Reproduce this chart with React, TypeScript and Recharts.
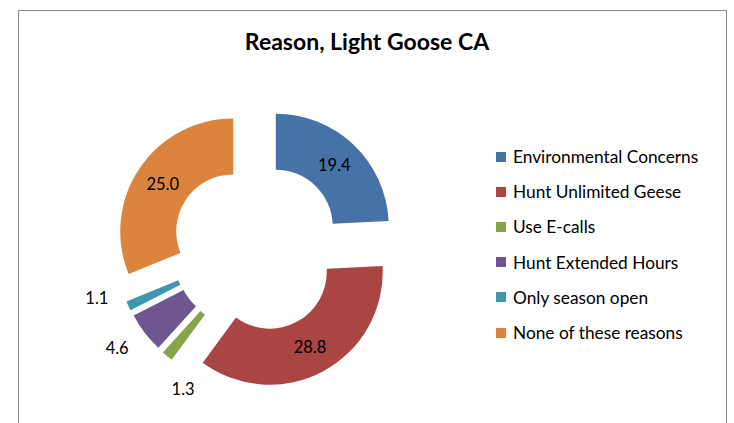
import { PieChart, Pie, Cell, Sector, Legend } from "recharts";

const categories = [
  "Environmental Concerns",
  "Hunt Unlimited Geese",
  "Use E-calls",
  "Hunt Extended Hours",
  "Only season open",
  "None of these reasons",
];
const values = [19.4, 28.8, 1.3, 4.6, 1.1, 25.0];
const colors = ["#4672A7", "#A94543", "#87A44B", "#6F568E", "#3F97AE", "#DB843D"];

const data = categories.map((name, i) => ({ name, value: values[i] }));

const RADIAN = Math.PI / 180;
const EXPLODE = 28;
const FONT = "Lato, 'Open Sans', sans-serif";

// nudges for the labels Excel pushed outside the small slices
const outsideNudge: Record<number, [number, number]> = {
  2: [33, 12],
  3: [-6, -1],
  4: [-7, -19],
};

// eslint-disable-next-line @typescript-eslint/no-explicit-any
const ExplodedSector = (props: any) => {
  const { cx, cy, midAngle, innerRadius, outerRadius, startAngle, endAngle, fill } = props;
  const dx = EXPLODE * Math.cos(-midAngle * RADIAN);
  const dy = EXPLODE * Math.sin(-midAngle * RADIAN);
  return (
    <Sector
      cx={cx + dx}
      cy={cy + dy}
      innerRadius={innerRadius}
      outerRadius={outerRadius}
      startAngle={startAngle}
      endAngle={endAngle}
      fill={fill}
      stroke="none"
    />
  );
};

// eslint-disable-next-line @typescript-eslint/no-explicit-any
const renderLabel = (props: any) => {
  const { cx, cy, midAngle, innerRadius, outerRadius, value, index } = props;
  const small = value < 5;
  const r = small ? 168 : (innerRadius + outerRadius) / 2 + EXPLODE;
  const [nx, ny] = small ? outsideNudge[index] ?? [0, 0] : [0, 0];
  const x = cx + r * Math.cos(-midAngle * RADIAN) + nx;
  const y = cy + r * Math.sin(-midAngle * RADIAN) + ny;
  return (
    <text
      x={x}
      y={y}
      fill="#000"
      textAnchor="middle"
      dominantBaseline="central"
      fontFamily={FONT}
      fontSize={16.5}
    >
      {Number(value).toFixed(1)}
    </text>
  );
};

// legend follows the data order, not alphabetical
const renderLegend = () => (
  <div style={{ fontFamily: FONT, fontSize: 17.3, color: "#000" }}>
    {categories.map((name, i) => (
      <div key={name} style={{ display: "flex", alignItems: "center", height: 35.2 }}>
        <div
          style={{
            width: 10,
            height: 10,
            background: colors[i],
            marginRight: 7,
          }}
        />
        <span>{name}</span>
      </div>
    ))}
  </div>
);

export default function App() {
  return (
    <div
      style={{
        position: "absolute",
        left: 0,
        top: 0,
        width: 734,
        height: 423,
        background: "#fff",
        overflow: "hidden",
      }}
    >
      <div
        style={{
          position: "absolute",
          left: 18,
          top: 10,
          width: 707,
          height: 430,
          border: "1px solid #8c8c8c",
        }}
      />
      <div
        style={{
          position: "absolute",
          left: 0,
          top: 27,
          width: 734,
          textAlign: "center",
          fontFamily: FONT,
          fontWeight: 700,
          fontSize: 23,
          color: "#000",
        }}
      >
        Reason, Light Goose CA
      </div>
      <div style={{ position: "absolute", left: 0, top: 0 }}>
        <PieChart width={734} height={423} margin={{ top: 0, right: 0, bottom: 0, left: 0 }}>
          <Pie
            data={data}
            dataKey="value"
            nameKey="name"
            cx={256.5}
            cy={247}
            innerRadius={57}
            outerRadius={113}
            startAngle={90}
            endAngle={-270}
            stroke="none"
            shape={ExplodedSector}
            label={renderLabel}
            labelLine={false}
            isAnimationActive={false}
          >
            {data.map((_, i) => (
              <Cell key={i} fill={colors[i]} />
            ))}
          </Pie>
          <Legend
            layout="vertical"
            content={renderLegend}
            wrapperStyle={{ left: 496, top: 139, width: 236 }}
          />
        </PieChart>
      </div>
    </div>
  );
}
